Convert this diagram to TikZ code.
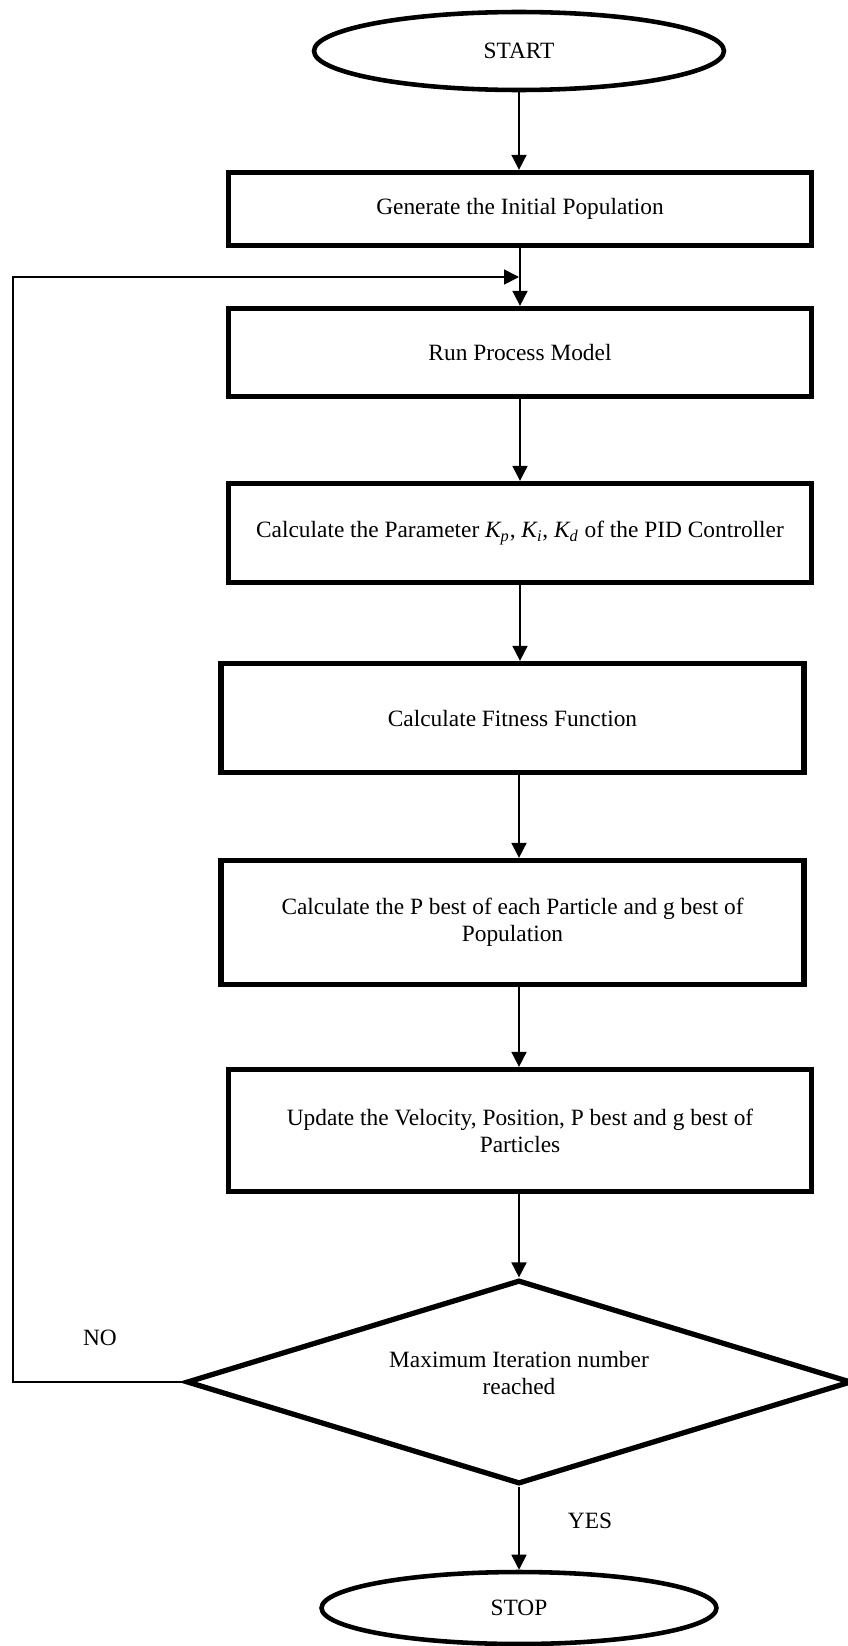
\documentclass[tikz,border=0pt]{standalone}
\usepackage{fontspec}
\setmainfont{Liberation Serif}
\usepackage{tikz}
\usetikzlibrary{shapes,arrows.meta,positioning,calc}

\begin{document}
\begin{tikzpicture}[x=0.02cm, y=-0.02cm, thick,
  txt/.style={font=\fontsize{13.3}{15.5}\selectfont},
  box/.style={txt, draw, rectangle, line width=3pt, minimum width=11.66cm, align=center, inner sep=0pt},
  term/.style={txt, draw, ellipse, line width=2.6pt, inner sep=0pt},
  decide/.style={txt, draw, diamond, aspect=3.25, line width=3pt, align=center, inner sep=0pt},
  arr/.style={line width=1pt, -{Triangle[length=0.3cm, width=0.3cm]}}]
\useasboundingbox (0,0) rectangle (848,1646);

\node (start) [term, minimum width=8.2cm, minimum height=1.56cm] at (519,51) {START};
\node (gen) [box, minimum height=1.46cm] at (520,209) {Generate the Initial Population};
\node (run) [box, minimum height=1.76cm] at (520,352.5) {Run Process Model};
\node (param) [box, minimum height=1.98cm] at (520,533) {Calculate the Parameter \textit{K\textsubscript{p}}, \textit{K\textsubscript{i}}, \textit{K\textsubscript{d}} of the PID Controller};
\node (fit) [box, minimum height=2.18cm] at (512.5,718) {Calculate Fitness Function};
\node (pbest) [box, minimum height=2.48cm] at (512.5,922.5) {Calculate the P best of each Particle and g best of\\Population};
\node (upd) [box, minimum height=2.44cm] at (520,1130.5) {Update the Velocity, Position, P best and g best of\\Particles};
\node (dec) [decide, minimum width=13.3cm, minimum height=4.08cm] at (519,1382) {\raisebox{19pt}{\begin{tabular}{@{}c@{}}Maximum Iteration number\\reached\end{tabular}}};
\node (stop) [term, minimum width=7.9cm, minimum height=1.44cm] at (519,1608) {STOP};
\node (no) [txt] at (100,1338) {NO};
\node (yes) [txt] at (590,1521) {YES};

\coordinate (join) at (519,277);
\coordinate (back) at (13,277);

\draw[arr] (start) -- (start |- gen.north);
\draw[arr] (gen) -- (gen |- run.north);
\draw[arr] (run) -- (run |- param.north);
\draw[arr] (param) -- (param |- fit.north);
\draw[arr] (fit.south -| start) -- (pbest.north -| start);
\draw[arr] (pbest.south -| start) -- (upd.north -| start);
\draw[arr] (upd.south -| start) -- (dec.north);
\draw[arr] (dec.south) -- (stop.north);
\draw[arr] (dec.west) -- (dec.west -| back) -- (back) -- (join);
\end{tikzpicture}
\end{document}
